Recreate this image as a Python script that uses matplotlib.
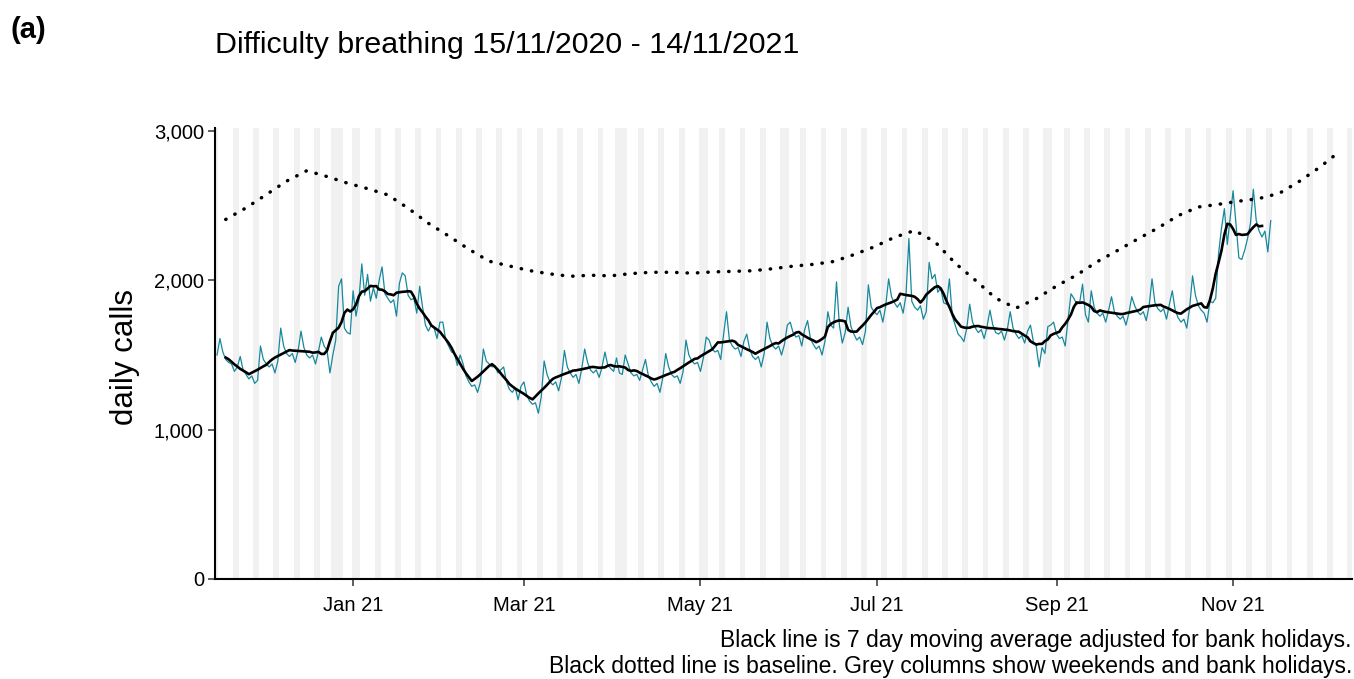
import numpy as np
import pandas as pd
import matplotlib
matplotlib.use('Agg')
import matplotlib.pyplot as plt
import matplotlib.dates as mdates
from matplotlib.ticker import FuncFormatter

plt.rcParams['font.family'] = ['Liberation Sans', 'DejaVu Sans']

# ── Data ──────────────────────────────────────────────────────────────────────
START = '2020-11-15'

# daily calls, first Sunday then one row per week (Mon..Sun)
calls = [
    1500,
    1610, 1520, 1470, 1450, 1440, 1390, 1420,
    1490, 1400, 1370, 1340, 1360, 1310, 1330,
    1560, 1470, 1440, 1420, 1440, 1380, 1460,
    1680, 1560, 1510, 1490, 1510, 1450, 1530,
    1660, 1550, 1500, 1480, 1500, 1440, 1520,
    1620, 1560, 1530, 1380, 1500, 1600, 1960,
    2010, 1680, 1650, 1640, 1930, 1760, 1870,
    2110, 1900, 2040, 1860, 1950, 1880, 2000,
    2090, 1910, 1880, 1850, 1870, 1760, 1980,
    2050, 2030, 1900, 1870, 1880, 1780, 1960,
    1820, 1700, 1660, 1700, 1680, 1610, 1720,
    1720, 1600, 1560, 1520, 1510, 1430, 1500,
    1440, 1360, 1320, 1290, 1300, 1250, 1320,
    1540, 1460, 1440, 1420, 1430, 1380, 1400,
    1420, 1320, 1270, 1250, 1280, 1200, 1290,
    1320, 1230, 1190, 1170, 1180, 1110, 1220,
    1460, 1370, 1320, 1300, 1320, 1260, 1350,
    1530, 1420, 1380, 1350, 1370, 1310, 1410,
    1540, 1450, 1400, 1380, 1400, 1350, 1420,
    1520, 1430, 1410, 1390, 1480, 1380, 1370,
    1500, 1440, 1380, 1360, 1370, 1330, 1400,
    1470, 1360, 1320, 1290, 1310, 1250, 1350,
    1510, 1420, 1370, 1350, 1360, 1310, 1390,
    1600, 1500, 1460, 1440, 1450, 1390, 1480,
    1620, 1600, 1540, 1520, 1530, 1470, 1640,
    1790, 1600, 1560, 1540, 1550, 1490, 1590,
    1640, 1540, 1490, 1470, 1490, 1420, 1510,
    1720, 1610, 1560, 1540, 1560, 1500, 1570,
    1700, 1720, 1650, 1620, 1630, 1560, 1670,
    1730, 1610, 1570, 1540, 1560, 1500, 1590,
    1790, 1700, 1680, 1990, 1700, 1580, 1650,
    1820, 1690, 1640, 1600, 1620, 1570, 1660,
    1970, 1820, 1790, 1770, 1800, 1720, 1830,
    2010, 1890, 1850, 1820, 1850, 1780, 1900,
    2280, 1860, 1820, 1800, 1830, 1740, 1790,
    2120, 2010, 2040, 1920, 1950, 1850, 1840,
    2010, 1760, 1700, 1640, 1620, 1590, 1680,
    1840, 1720, 1680, 1650, 1670, 1610, 1690,
    1800, 1700, 1650, 1640, 1660, 1600, 1670,
    1790, 1680, 1640, 1610, 1630, 1580, 1660,
    1700, 1590, 1560, 1420, 1550, 1510, 1690,
    1700, 1720, 1640, 1610, 1620, 1560, 1740,
    1910, 1880, 1840, 1850, 1975, 1770, 1720,
    1930, 1820, 1780, 1760, 1780, 1720, 1800,
    1890, 1790, 1760, 1740, 1760, 1700, 1780,
    1890, 1830, 1790, 1770, 1790, 1730, 1830,
    2010, 1850, 1810, 1790, 1810, 1740, 1840,
    1930, 1800, 1750, 1720, 1740, 1680, 1820,
    2030, 1900, 1830, 1800, 1780, 1720, 1860,
    1850, 1880, 2180, 2350, 2480, 2240, 2420,
    2600, 2380, 2150, 2140, 2200, 2280, 2380,
    2610, 2400, 2330, 2290, 2330, 2190, 2400,
]

# weekly baseline, starting 18/11/2020
BASE_START = '2020-11-18'
baseline = [
    2408, 2485, 2574, 2664, 2734, 2695, 2651, 2614, 2572, 2483,
    2382, 2297, 2208, 2128, 2096, 2065, 2043, 2027, 2034, 2030,
    2045, 2054, 2054, 2048, 2056, 2060, 2064, 2078, 2095, 2107,
    2126, 2172, 2224, 2288, 2334, 2258, 2115, 2000, 1880, 1814,
    1877, 1962, 2036, 2124, 2199, 2276, 2350, 2433, 2491, 2509,
    2530, 2548, 2583, 2664, 2758, 2866,
]

bank_holidays = ['2020-12-25', '2020-12-28', '2021-01-01', '2021-04-02',
                 '2021-04-05', '2021-05-03', '2021-05-31', '2021-08-30']

x_ticks = ['2021-01-01', '2021-03-01', '2021-05-01', '2021-07-01',
           '2021-09-01', '2021-11-01']
y_ticks = [0, 1000, 2000, 3000]

TITLE = 'Difficulty breathing 15/11/2020 - 14/11/2021'
CAPTION_1 = 'Black line is 7 day moving average adjusted for bank holidays.'
CAPTION_2 = 'Black dotted line is baseline. Grey columns show weekends and bank holidays.'

# ── Prep ──────────────────────────────────────────────────────────────────────
dates = pd.date_range(START, periods=len(calls), freq='D')
daily = pd.Series(calls, index=dates, dtype=float)
ma7 = daily.rolling(7, center=True).mean()
base_dates = pd.date_range(BASE_START, periods=len(baseline), freq='7D')

x_lo = pd.Timestamp('2020-11-14 07:00')
x_hi = pd.Timestamp('2021-12-12 02:00')
all_days = pd.date_range('2020-11-14', '2021-12-12', freq='D')
grey_days = set(all_days[all_days.weekday >= 5]) | set(pd.to_datetime(bank_holidays))

# ── Figure ────────────────────────────────────────────────────────────────────
fig = plt.figure(figsize=(13.54, 6.79), dpi=100)
ax = fig.add_axes([215 / 1354, 1 - 579 / 679, (1352 - 215) / 1354, (579 - 128) / 679])

for d in sorted(grey_days):
    ax.axvspan(d - pd.Timedelta(hours=12), d + pd.Timedelta(hours=12),
               color='#e6e6e6', alpha=0.55, lw=0, zorder=0)

ax.plot(dates, daily.values, color='#17889c', lw=0.9, zorder=2)
ax.plot(ma7.index, ma7.values, color='black', lw=1.9, zorder=3)
ax.plot(base_dates, baseline, color='black', lw=2.5,
        linestyle=(0, (0.1, 2.9)), dash_capstyle='round', zorder=3)

ax.set_xlim(x_lo, x_hi)
ax.set_ylim(0, 3020)
ax.set_xticks(pd.to_datetime(x_ticks))
ax.xaxis.set_major_formatter(mdates.DateFormatter('%b %y'))
ax.set_yticks(y_ticks)
ax.yaxis.set_major_formatter(FuncFormatter(lambda v, p: f'{int(v):,}'))

for s in ['top', 'right']:
    ax.spines[s].set_visible(False)
for s in ['left', 'bottom']:
    ax.spines[s].set_linewidth(1.5)
    ax.spines[s].set_color('black')
ax.tick_params(axis='both', length=5, width=1.1, color='#333333',
               labelsize=14.5, labelcolor='black')
ax.tick_params(axis='x', pad=7)
ax.tick_params(axis='y', pad=3)

fig.text(10 / 1354, 1 - 30 / 679, '(a)', fontsize=21, fontweight='bold', va='center')
fig.text(215 / 1354, 1 - 45 / 679, TITLE, fontsize=21.9, va='center')
fig.text(125 / 1354, 1 - 357 / 679, 'daily calls', fontsize=22.5, rotation=90,
         ha='center', va='center')
fig.text(1352 / 1354, 1 - 640 / 679, CAPTION_1, fontsize=16.5, ha='right', va='center')
fig.text(1352 / 1354, 1 - 667 / 679, CAPTION_2, fontsize=16.5, ha='right', va='center')

fig.savefig('out.png', dpi=100)
